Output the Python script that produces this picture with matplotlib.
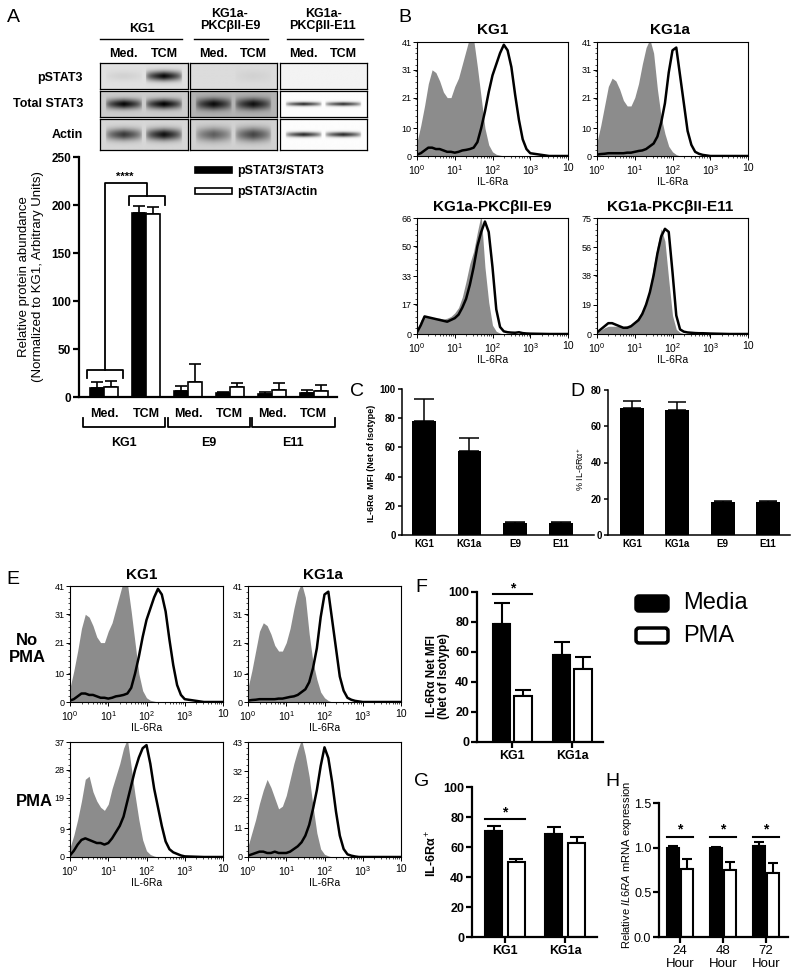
import numpy as np
import matplotlib
matplotlib.use('Agg')
import matplotlib.pyplot as plt
from matplotlib.patches import Rectangle, FancyBboxPatch
from matplotlib.ticker import FixedLocator, NullFormatter

plt.rcParams['font.family'] = ['Liberation Sans', 'DejaVu Sans']
plt.rcParams['mathtext.fontset'] = 'custom'
plt.rcParams['mathtext.rm'] = 'Liberation Sans'
plt.rcParams['mathtext.it'] = 'Liberation Sans:italic'
plt.rcParams['mathtext.bf'] = 'Liberation Sans:bold'

# ---------------- data ----------------
# A: western blot, band strength for (Med., TCM) in each row
blot_rows = ['pSTAT3', 'Total STAT3', 'Actin']
blot_lanes = ['Med.', 'TCM']
blot_kg1 = [[0.06, 0.85], [0.78, 0.80], [0.62, 0.78]]
blot_e9 = [[0.0, 0.04], [0.66, 0.64], [0.45, 0.55]]
blot_e11 = [[0.0, 0.0], [0.82, 0.80], [0.85, 0.85]]
blot_bg_kg1 = [0.88, 0.80, 0.84]
blot_bg_e9 = [0.86, 0.70, 0.82]
blot_bg_e11 = [0.95, 0.99, 0.99]

# A: quantification
a_conditions = ['Med.', 'TCM', 'Med.', 'TCM', 'Med.', 'TCM']
a_lines = ['KG1', 'E9', 'E11']
a_stat3 = [9, 192, 6, 4, 3.5, 4.5]
a_stat3_err = [7, 7, 5.5, 1, 1.5, 2.5]
a_actin = [10, 191, 15.5, 10.5, 7, 6]
a_actin_err = [7, 7, 18.5, 4.5, 8, 6]

# B / E: flow histograms (log10 of IL-6Ra intensity -> count)
flow_log = [0.0, 0.1, 0.2, 0.3, 0.4, 0.5, 0.6, 0.7, 0.8, 0.9, 1.0, 1.1, 1.2, 1.3, 1.4, 1.5,
            1.6, 1.7, 1.8, 1.9, 2.0, 2.1, 2.2, 2.3, 2.4, 2.5, 2.6, 2.7, 2.8, 2.9, 3.0, 3.5, 4.0]
kg1_iso = [5, 11, 18, 26, 31, 30, 27, 23, 21, 21, 25, 28, 33, 38, 43, 42, 32, 21, 10, 4, 1.5, 0.6,
           0.3, 0, 0, 0, 0, 0, 0, 0, 0, 0, 0]
kg1_il6r = [0.5, 1, 2, 3, 3, 2.5, 2.5, 2, 1.5, 1.5, 1.2, 1.5, 2, 2.2, 2.5, 3, 5, 10, 16, 23, 29, 33,
            37, 40, 38, 32, 22, 13, 6, 2.5, 1, 0, 0]
kg1a_iso = [5, 11, 18, 25, 28, 27, 24, 20, 18, 18, 21, 26, 33, 39, 42, 37, 24, 14, 8, 3.5, 1.5, 0.5,
            0, 0, 0, 0, 0, 0, 0, 0, 0, 0, 0]
kg1a_il6r = [0.5, 0.7, 0.8, 1, 1, 1, 1, 1, 1.2, 1.2, 1.5, 1.8, 2, 2.5, 3.5, 4.5, 7, 12, 19, 30, 38,
             39, 29, 19, 9, 4, 1.5, 0.8, 0.4, 0.2, 0, 0, 0]
e9_iso = [2, 8, 10, 10, 9, 9, 9, 8.5, 9, 10, 12, 15, 21, 30, 40, 47, 58, 68, 38, 18, 5, 1.5, 0.5,
          0, 0, 0, 0, 0, 0, 0, 0, 0, 0]
e9_il6r = [1, 5, 10, 9.5, 9, 8.5, 8, 7.5, 7, 8, 9, 11, 15, 20, 28, 38, 50, 58, 64, 58, 38, 14, 4,
           1.5, 1, 0.8, 0.7, 1, 0.5, 0.3, 0.2, 0, 0]
e11_iso = [1, 2.5, 4, 5, 5, 5, 5, 5, 5.5, 6, 8, 11, 15, 21, 30, 44, 57, 68, 60, 35, 12, 3, 1, 0.3,
           0, 0, 0, 0, 0, 0, 0, 0, 0]
e11_il6r = [1, 3, 5, 7, 7, 6, 5, 4, 4, 5, 7, 9, 13, 19, 27, 38, 52, 63, 68, 66, 40, 12, 3, 1.5, 1,
            0.8, 0.6, 0.5, 0.5, 0.4, 0.3, 0, 0]
pma_kg1_iso = [3, 7, 12, 18, 25, 26, 21, 18, 16, 15, 17, 22, 26, 30, 35, 38, 29, 20, 12, 5.5, 2,
               0.8, 0.3, 0, 0, 0, 0, 0, 0, 0, 0, 0, 0]
pma_kg1_il6r = [0.5, 2, 4, 5.5, 6, 5.5, 5, 4.5, 4.5, 4, 4.5, 6, 8, 10, 13, 18, 23, 28, 32, 35, 36,
                30, 22, 16, 10, 5, 2.5, 1.5, 1, 0.5, 0.2, 0, 0]
pma_kg1a_iso = [4, 9, 14, 20, 25, 29, 26, 22, 18, 19, 23, 29, 35, 40, 44, 38, 30, 19, 9, 3, 1, 0.4,
                0, 0, 0, 0, 0, 0, 0, 0, 0, 0, 0]
pma_kg1a_il6r = [0.5, 1, 1.5, 2, 2, 1.5, 1.5, 2, 1.5, 1.5, 1.5, 2, 3, 4, 5.5, 8, 12, 18, 25, 34, 41,
                 37, 28, 17, 8, 3, 1, 0.5, 0.2, 0, 0, 0, 0]

# C / D
cd_lines = ['KG1', 'KG1a', 'E9', 'E11']
c_mfi = [78, 57.5, 8.2, 8.3]
c_mfi_err = [15, 9, 0.4, 0.4]
d_pct = [70, 69, 18.2, 18.3]
d_pct_err = [4, 4.4, 0.3, 0.3]

# F / G / H: Media vs PMA
fg_lines = ['KG1', 'KG1a']
f_media = [79, 58]
f_media_err = [14, 9]
f_pma = [31, 49]
f_pma_err = [4, 7.5]
g_media = [70.5, 69]
g_media_err = [3.5, 4.5]
g_pma = [50, 63]
g_pma_err = [2, 4]
h_times = ['24\nHour', '48\nHour', '72\nHour']
h_media = [1.0, 1.0, 1.02]
h_media_err = [0.02, 0.01, 0.04]
h_pma = [0.76, 0.75, 0.72]
h_pma_err = [0.11, 0.09, 0.11]

W, H = 800, 977
fig = plt.figure(figsize=(8, 9.77), dpi=100)


def box(x0, y0, x1, y1):
    return [x0 / W, 1 - y1 / H, (x1 - x0) / W, (y1 - y0) / H]


def prism(ax, lw=1.5, size=8, weight='bold', length=4):
    for s in ['top', 'right']:
        ax.spines[s].set_visible(False)
    for s in ['left', 'bottom']:
        ax.spines[s].set_linewidth(lw)
    ax.tick_params(width=lw, length=length, labelsize=size, pad=1.5)
    for lab in ax.get_xticklabels() + ax.get_yticklabels():
        lab.set_fontweight(weight)


def up_err(ax, x, y, e, lw, cap):
    ax.errorbar(x, y, yerr=[np.zeros(len(e)), e], fmt='none', ecolor='black',
                elinewidth=lw, capsize=cap, capthick=lw, zorder=1)


# ---------------- A: blots ----------------
blot_x = [(100, 188), (190, 277), (280, 367)]
blot_y = [(63, 89), (91, 117), (119, 150)]
blot_sets = [(blot_kg1, blot_bg_kg1, 0.38), (blot_e9, blot_bg_e9, 0.45), (blot_e11, blot_bg_e11, 0.16)]
for (x0, x1), (bands, bgs, thick) in zip(blot_x, blot_sets):
    for (y0, y1), band, bg in zip(blot_y, bands, bgs):
        ax = fig.add_axes(box(x0, y0, x1, y1))
        yy = np.linspace(-1, 1, 30)[:, None]
        xx = np.linspace(0, 1, 90)[None, :]
        img = np.full((30, 90), bg)
        for lane, s in zip([0.27, 0.73], band):
            px = np.clip(1 - np.abs(xx - lane) / 0.21, 0, 1) ** 0.4
            img = img - s * px * np.exp(-(yy / thick) ** 2)
        ax.imshow(img, cmap='gray', vmin=0, vmax=1, aspect='auto', interpolation='bilinear')
        ax.set_xticks([])
        ax.set_yticks([])
        for s in ax.spines.values():
            s.set_linewidth(0.9)

# ---------------- A: bar chart ----------------
axA = fig.add_axes(box(79, 157, 337, 397))
pos = np.arange(len(a_conditions))
axA.bar(pos - 0.17, a_stat3, 0.33, color='black', edgecolor='black', lw=1.2, zorder=2)
axA.bar(pos + 0.17, a_actin, 0.33, color='white', edgecolor='black', lw=1.2, zorder=2)
up_err(axA, pos - 0.17, a_stat3, a_stat3_err, 1.2, 4)
up_err(axA, pos + 0.17, a_actin, a_actin_err, 1.2, 4)
axA.set_xlim(-0.595, 5.55)
axA.set_ylim(0, 250)
axA.set_yticks([0, 50, 100, 150, 200, 250])
axA.set_xticks(pos, a_conditions)
prism(axA, lw=1.6, size=8.5)
axA.tick_params(axis='x', length=0, labelsize=9, pad=8)
# significance brackets
k = dict(color='black', lw=1.3, clip_on=False)
axA.plot([-0.4, -0.4, 0.45, 0.45], [20, 28, 28, 20], **k)
axA.plot([0.6, 0.6, 1.45, 1.45], [200, 209, 209, 200], **k)
axA.plot([0.02, 0.02, 1.02, 1.02], [28, 223, 223, 209], **k)
axA.text(0.5, 224, '****', ha='center', va='bottom', fontsize=8, fontweight='bold')
# cell-line brackets under the axis
tr = axA.get_xaxis_transform()
for (g0, g1), name in zip([(-0.5, 1.45), (1.52, 3.48), (3.52, 5.5)], a_lines):
    axA.plot([g0, g0, g1, g1], [-0.088, -0.125, -0.125, -0.088], transform=tr, **k)
    axA.text((g0 + g1) / 2, -0.19, name, transform=tr, ha='center', va='center',
             fontsize=9, fontweight='bold')


# ---------------- B / E: flow ----------------
def flow(rect, iso, il6r, ymax, yticks):
    ax = fig.add_axes(box(*rect))
    x = 10 ** np.array(flow_log)
    ax.fill_between(x, iso, color='#8c8c8c', lw=0)
    ax.plot(x, il6r, color='black', lw=1.8)
    ax.set_xscale('log')
    ax.set_xlim(1, 1e4)
    ax.set_ylim(0, ymax)
    ax.set_xticks([1, 10, 100, 1000, 10000], ['$10^0$', '$10^1$', '$10^2$', '$10^3$', '10'])
    ax.xaxis.set_minor_locator(FixedLocator([m * 10 ** d for d in range(4) for m in range(2, 10)]))
    ax.xaxis.set_minor_formatter(NullFormatter())
    ax.set_yticks(yticks)
    ax.yaxis.set_minor_locator(FixedLocator(np.linspace(0, ymax, 21)))
    ax.tick_params(axis='y', labelsize=6.5, length=3, width=0.7, pad=1)
    ax.tick_params(axis='x', labelsize=7.5, length=3, width=0.7, pad=2)
    ax.tick_params(which='minor', length=1.5, width=0.5)
    ax.set_xlabel('IL-6Ra', fontsize=7.5, labelpad=0)
    for s in ax.spines.values():
        s.set_linewidth(0.8)
    return ax


flow((417, 42, 568, 156), kg1_iso, kg1_il6r, 41, [0, 10, 21, 31, 41])
flow((597, 42, 748, 156), kg1a_iso, kg1a_il6r, 41, [0, 10, 21, 31, 41])
flow((417, 218, 568, 334), e9_iso, e9_il6r, 66, [0, 17, 33, 50, 66])
flow((597, 218, 748, 334), e11_iso, e11_il6r, 75, [0, 19, 38, 56, 75])
flow((70, 586, 223, 702), kg1_iso, kg1_il6r, 41, [0, 10, 21, 31, 41])
flow((248, 586, 401, 702), kg1a_iso, kg1a_il6r, 41, [0, 10, 21, 31, 41])
flow((70, 742, 223, 857), pma_kg1_iso, pma_kg1_il6r, 37, [0, 9, 19, 28, 37])
flow((248, 742, 401, 857), pma_kg1a_iso, pma_kg1a_il6r, 43, [0, 11, 22, 32, 43])

# ---------------- C / D ----------------
p4 = np.arange(len(cd_lines))
axC = fig.add_axes(box(402, 389, 594, 535))
axC.bar(p4, c_mfi, 0.52, color='black', zorder=2)
up_err(axC, p4, c_mfi, c_mfi_err, 1.1, 7)
axC.set_xlim(-0.48, 3.73)
axC.set_ylim(0, 100)
axC.set_yticks([0, 20, 40, 60, 80, 100])
axC.set_xticks(p4, cd_lines)
prism(axC, lw=1.1, size=7, length=3)
axC.tick_params(axis='x', length=0, pad=3)

axD = fig.add_axes(box(608, 390, 790, 535))
axD.bar(p4, d_pct, 0.53, color='black', zorder=2)
up_err(axD, p4, d_pct, d_pct_err, 1.1, 6.5)
axD.set_xlim(-0.53, 3.49)
axD.set_ylim(0, 80)
axD.set_yticks([0, 20, 40, 60, 80])
axD.set_xticks(p4, cd_lines)
prism(axD, lw=1.1, size=7, length=3)
axD.tick_params(axis='x', length=0, pad=3)


# ---------------- F / G / H ----------------
def paired(rect, media, media_err, pma, pma_err, labels, ylim, yticks, xlim, w, off, cap,
           size, weight, sig):
    ax = fig.add_axes(box(*rect))
    p = np.arange(len(labels))
    ax.bar(p - off, media, w, color='black', edgecolor='black', lw=1.5, zorder=2)
    ax.bar(p + off, pma, w, color='white', edgecolor='black', lw=1.5, zorder=2)
    up_err(ax, p - off, media, media_err, 1.5, cap)
    up_err(ax, p + off, pma, pma_err, 1.5, cap)
    ax.set_xlim(*xlim)
    ax.set_ylim(*ylim)
    ax.set_yticks(yticks)
    ax.set_xticks(p, labels)
    prism(ax, lw=1.6, size=size, weight=weight, length=4)
    for i, y_line, y_star in sig:
        ax.plot([i - off - w / 2, i + off + w / 2], [y_line, y_line], color='black', lw=1.5,
                clip_on=False)
        ax.text(i, y_star, '*', ha='center', va='center', fontsize=10, fontweight='bold')
    return ax


paired((477, 592, 603, 742), f_media, f_media_err, f_pma, f_pma_err, fg_lines, (0, 100),
       [0, 20, 40, 60, 80, 100], (-0.59, 1.51), 0.29, 0.18, 5.5, 9, 'bold', [(0, 99, 102.5)])
paired((472, 787, 597, 937), g_media, g_media_err, g_pma, g_pma_err, fg_lines, (0, 100),
       [0, 20, 40, 60, 80, 100], (-0.55, 1.53), 0.29, 0.19, 5, 9, 'bold', [(0, 79, 83)])
axH = paired((659, 803, 788, 937), h_media, h_media_err, h_pma, h_pma_err, h_times, (0, 1.5),
             [0.0, 0.5, 1.0, 1.5], (-0.49, 2.51), 0.29, 0.16, 3.5, 9, 'normal',
             [(0, 1.125, 1.2), (1, 1.125, 1.2), (2, 1.125, 1.2)])
axH.set_yticklabels(['0.0', '0.5', '1.0', '1.5'])
axH.tick_params(axis='x', labelsize=9.5)

# ---------------- overlay: letters, headers, labels ----------------
ov = fig.add_axes([0, 0, 1, 1], facecolor='none')
ov.set_xlim(0, W)
ov.set_ylim(H, 0)
ov.axis('off')

for letter, x, y in [('A', 13, 17), ('B', 405, 17), ('C', 357, 392), ('D', 577, 392),
                     ('E', 13, 580), ('F', 421, 588), ('G', 422, 781), ('H', 612, 781)]:
    ov.text(x, y, letter, fontsize=14, ha='center', va='center')

bold = dict(fontweight='bold', ha='center', va='center')
# blot headers
ov.text(142, 29, 'KG1', fontsize=9, **bold)
ov.text(230, 20, 'KG1a-\nPKCβII-E9', fontsize=9, linespacing=1.0, **bold)
ov.text(323, 20, 'KG1a-\nPKCβII-E11', fontsize=9, linespacing=1.0, **bold)
for (x0, x1) in [(100, 182), (194, 268), (287, 363)]:
    ov.plot([x0, x1], [39, 39], color='black', lw=1)
for (x0, x1) in blot_x:
    for frac, lane in zip([0.27, 0.73], blot_lanes):
        ov.text(x0 + frac * (x1 - x0), 54, lane, fontsize=9, **bold)
for (y0, y1), name, yc in zip(blot_y, blot_rows, [78, 104, 135]):
    ov.text(83, yc, name, fontsize=9, fontweight='bold', ha='right', va='center')

# A legend and label
ov.add_patch(Rectangle((195, 167), 37, 6, facecolor='black', edgecolor='black', lw=1.2))
ov.add_patch(Rectangle((195, 188), 37, 6, facecolor='white', edgecolor='black', lw=1.2))
ov.text(237, 171, 'pSTAT3/STAT3', fontsize=9, fontweight='bold', va='center')
ov.text(237, 192, 'pSTAT3/Actin', fontsize=9, fontweight='bold', va='center')
ov.text(31, 277, 'Relative protein abundance\n(Normalized to KG1, Arbitrary Units)',
        fontsize=9.5, rotation=90, ha='center', va='center', linespacing=1.15)

# flow titles
for txt, x, y in [('KG1', 493, 30), ('KG1a', 670, 30), ('KG1a-PKCβII-E9', 492, 207),
                  ('KG1a-PKCβII-E11', 670, 207), ('KG1', 142, 575), ('KG1a', 323, 575)]:
    ov.text(x, y, txt, fontsize=11, **bold)
ov.text(27, 649, 'No\nPMA', fontsize=12, linespacing=1.1, **bold)
ov.text(34, 802, 'PMA', fontsize=12, **bold)

# y labels of C, D, F, G, H
ov.text(372, 463, 'IL-6Rα  MFI (Net of Isotype)', fontsize=6.5, rotation=90, **bold)
ov.text(580, 469, '% IL-6Rα$^+$', fontsize=6.5, rotation=90, ha='center', va='center')
ov.text(438, 676, 'IL-6Rα Net MFI\n(Net of Isotype)', fontsize=8.5, rotation=90,
        linespacing=1.1, **bold)
ov.text(432, 853, 'IL-6Rα$^+$', fontsize=9, rotation=90, **bold)
ov.text(627, 865, 'Relative $\\mathit{IL6RA}$ mRNA expression', fontsize=8, rotation=90,
        ha='center', va='center')

# F-H legend
ov.add_patch(FancyBboxPatch((636, 596), 32, 15, boxstyle='round,pad=0,rounding_size=3',
                            facecolor='black', edgecolor='black', lw=2.5))
ov.add_patch(FancyBboxPatch((636, 628), 32, 15, boxstyle='round,pad=0,rounding_size=3',
                            facecolor='white', edgecolor='black', lw=2.5))
ov.text(683, 603, 'Media', fontsize=17, va='center')
ov.text(683, 636, 'PMA', fontsize=17, va='center')

fig.savefig('out.png', dpi=100)
